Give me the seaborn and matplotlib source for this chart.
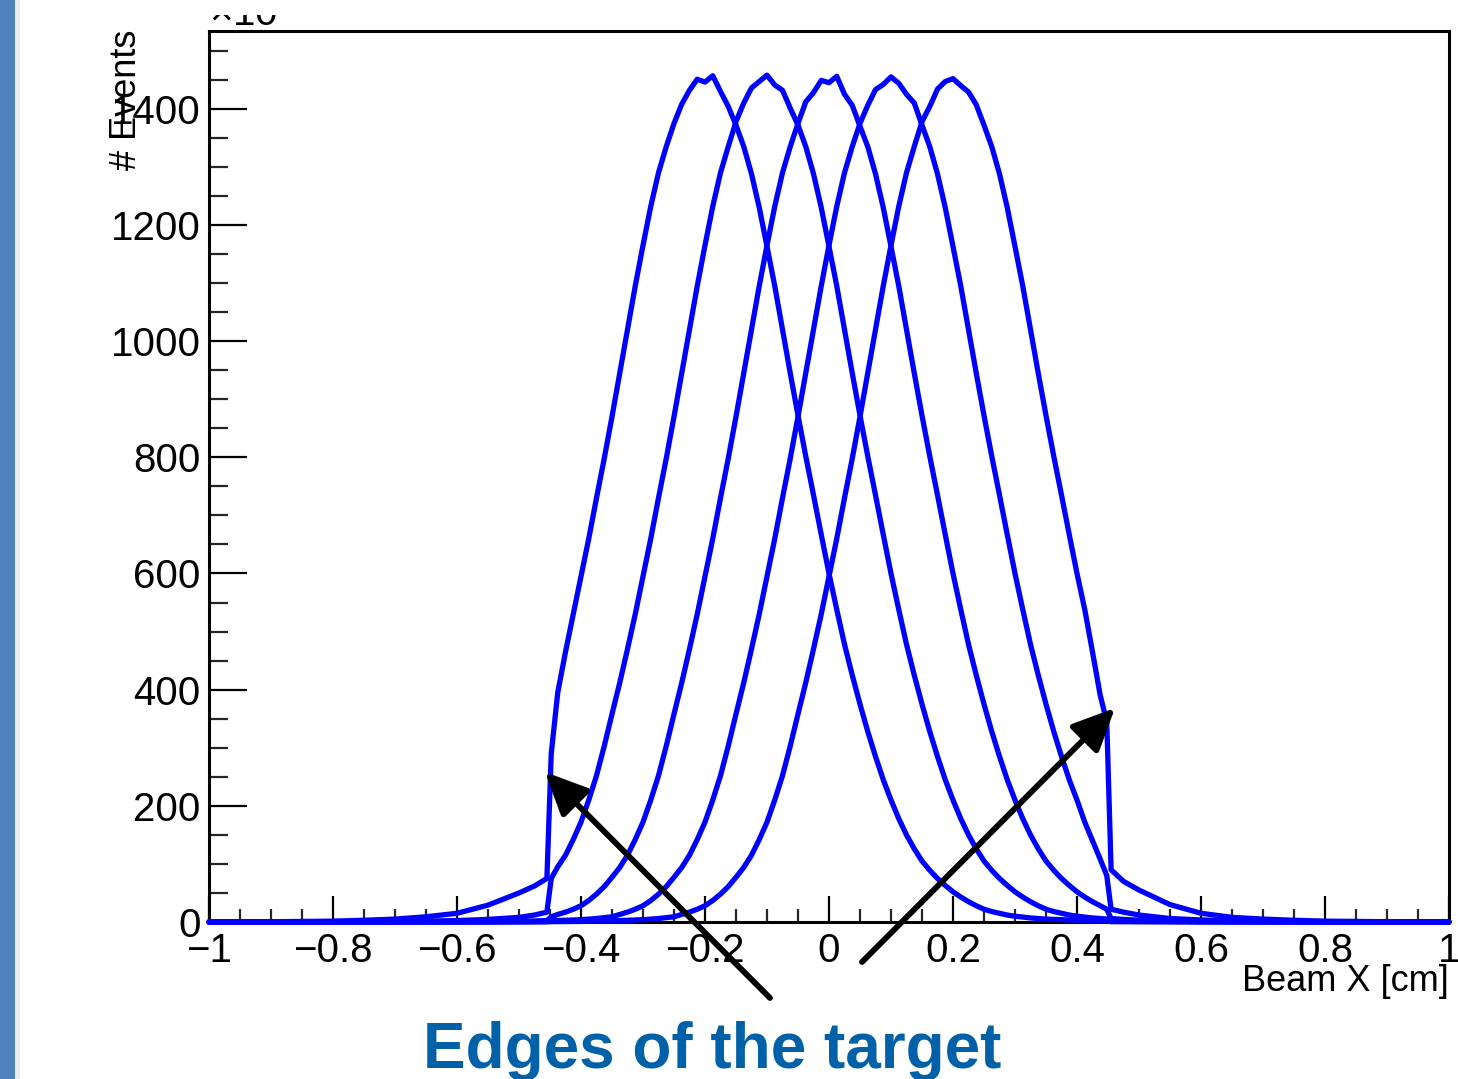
import numpy as np
import pandas as pd
import seaborn as sns
import matplotlib.pyplot as plt
from matplotlib.patches import Rectangle
from matplotlib.ticker import FixedLocator, FixedFormatter, MultipleLocator

# Beam X sample positions (cm): coarse tails, the target edges, and a fine core
x_tail_left = [-1.0, -0.9, -0.8, -0.75, -0.7, -0.65, -0.6, -0.55, -0.5, -0.475]
x_edge_left = [-0.455, -0.448]
x_core = list(np.round(np.linspace(-0.4375, 0.4375, 71), 4))
x_edge_right = [0.448, 0.455]
x_tail_right = [0.475, 0.5, 0.55, 0.6, 0.65, 0.7, 0.75, 0.8, 0.9, 1.0]
beam_x = x_tail_left + x_edge_left + x_core + x_edge_right + x_tail_right

# Events (x10^3) for the five beam offsets, in the order of beam_x
events_m020 = [0, 0.5, 1.5, 3, 5, 9, 15, 29, 50, 62,
               75, 290,
               395, 465, 530, 595, 660, 730, 798, 870, 945, 1020,
               1095, 1165, 1232, 1290, 1335, 1375, 1408, 1432, 1451, 1446,
               1457, 1430, 1404, 1372, 1335, 1288, 1230, 1163, 1095, 1020,
               945, 872, 802, 735, 667, 600, 538, 478, 425, 375,
               328, 285, 245, 210, 178, 150, 126, 105, 89, 75,
               63, 52, 43, 35, 28, 22, 18, 15, 12, 10,
               8.5, 7, 6, 5, 4.5, 4, 3.5, 3, 2.8, 2.5, 2.2,
               2, 0.6,
               0.5, 0.4, 0.3, 0.2, 0.1, 0, 0, 0, 0, 0]
events_m010 = [0, 0, 0.2, 0.4, 0.8, 1.5, 2.5, 4.5, 8, 12,
               17, 75,
               95, 115, 142, 172, 210, 252, 303, 358, 412, 470,
               530, 595, 660, 730, 798, 870, 945, 1020, 1095, 1165,
               1232, 1290, 1335, 1378, 1410, 1436, 1447, 1458,
               1441, 1432, 1401, 1372, 1335, 1288, 1230, 1163, 1095, 1020,
               945, 872, 802, 735, 667, 600, 538, 478, 425, 375,
               328, 285, 245, 210, 178, 150, 126, 105, 89, 75,
               63, 52, 43, 35, 28, 22, 18, 15, 12, 10, 8.5, 7, 6,
               5, 1.5,
               1.2, 1, 0.6, 0.3, 0.2, 0.1, 0, 0, 0, 0]
events_000 = [0, 0, 0, 0, 0, 0.2, 0.4, 0.6, 1.2, 1.8,
              2.5, 9,
              13, 17, 22, 28, 37, 48, 61, 77, 94, 115,
              142, 172, 210, 252, 303, 358, 412, 470, 530, 595,
              660, 730, 798, 870, 945, 1020, 1095, 1165, 1232, 1290,
              1335, 1375, 1412, 1428, 1449, 1445,
              1456, 1425, 1406, 1370, 1335, 1288, 1230, 1163, 1095, 1020,
              945, 872, 802, 735, 667, 600, 538, 478, 425, 375,
              328, 285, 245, 210, 178, 150, 126, 105, 89, 75,
              63, 52, 43, 35, 28,
              22, 6,
              4.5, 3, 1.5, 0.8, 0.5, 0.3, 0.2, 0.1, 0, 0]
events_p010 = [0, 0, 0, 0, 0, 0, 0.1, 0.2, 0.4, 0.6,
               0.8, 2.2,
               2.5, 3, 3.5, 4, 5, 6, 7.5, 9, 13, 17,
               22, 28, 37, 48, 61, 77, 94, 115, 142, 172,
               210, 252, 303, 358, 412, 470, 530, 595, 660, 730,
               798, 870, 945, 1020, 1095, 1165, 1232, 1290, 1335, 1375,
               1406, 1433, 1442, 1455,
               1444, 1425, 1410, 1372, 1335, 1288, 1230, 1163, 1095, 1020,
               945, 872, 802, 735, 667, 600, 538, 478, 425, 375,
               328, 285, 245, 210, 172, 140, 108,
               80, 22,
               17, 12, 6, 3.5, 2, 1.2, 0.7, 0.4, 0.1, 0]
events_p020 = [0, 0, 0, 0, 0, 0, 0, 0, 0.1, 0.2,
               0.3, 0.6,
               0.7, 0.8, 0.9, 1, 1.2, 1.5, 1.8, 2, 2.5, 3,
               3.5, 4, 5, 6, 7.5, 9, 13, 17, 22, 28,
               37, 48, 61, 77, 94, 115, 142, 172, 210, 252,
               303, 358, 412, 470, 530, 595, 660, 730, 798, 870,
               945, 1020, 1095, 1165, 1232, 1290, 1335, 1378, 1404, 1434,
               1447, 1452,
               1440, 1429, 1407, 1372, 1335, 1288, 1230, 1163, 1095, 1020,
               945, 872, 802, 735, 667, 600, 538, 465, 390,
               345, 90,
               70, 55, 30, 15, 8, 5, 3, 1.5, 0.5, 0.2]

offsets = ["-0.2", "-0.1", "0", "+0.1", "+0.2"]
series = [events_m020, events_m010, events_000, events_p010, events_p020]

x_ticks = [-1, -0.8, -0.6, -0.4, -0.2, 0, 0.2, 0.4, 0.6, 0.8, 1]
x_tick_labels = ["\u22121", "\u22120.8", "\u22120.6", "\u22120.4", "\u22120.2", "0",
                 "0.2", "0.4", "0.6", "0.8", "1"]
y_ticks = [0, 200, 400, 600, 800, 1000, 1200, 1400]
y_tick_labels = ["0", "200", "400", "600", "800", "1000", "1200", "1400"]

df = pd.concat(
    [pd.DataFrame({"beam_x": beam_x, "events": vals, "offset": off})
     for off, vals in zip(offsets, series)],
    ignore_index=True,
)

sns.set_theme(style="ticks")
plt.rcParams["font.family"] = ["Liberation Sans", "DejaVu Sans"]
plt.rcParams["mathtext.fontset"] = "custom"
plt.rcParams["mathtext.rm"] = "Liberation Sans"

W, H = 1458, 1079
fig = plt.figure(figsize=(W / 100, H / 100), dpi=100)
fig.patch.set_facecolor("white")
ax = fig.add_axes([209 / W, 1 - 922 / H, (1449 - 209) / W, (922 - 31) / H])
ax.set_facecolor("white")

sns.lineplot(data=df, x="beam_x", y="events", hue="offset", hue_order=offsets,
             palette=["#0000ff"] * len(offsets), estimator=None, sort=False,
             legend=False, linewidth=3.8, ax=ax)
for line in ax.lines:
    line.set_clip_on(False)
    line.set_zorder(3)

ax.set_xlim(-1, 1)
ax.set_ylim(0, 1534)
ax.set_xlabel("")
ax.set_ylabel("")

ax.xaxis.set_major_locator(FixedLocator(x_ticks))
ax.xaxis.set_major_formatter(FixedFormatter(x_tick_labels))
ax.xaxis.set_minor_locator(MultipleLocator(0.05))
ax.yaxis.set_major_locator(FixedLocator(y_ticks))
ax.yaxis.set_major_formatter(FixedFormatter(y_tick_labels))
ax.yaxis.set_minor_locator(MultipleLocator(50))

ax.tick_params(axis="x", which="major", direction="in", length=18.7, width=1.6,
               labelsize=29, pad=7, colors="black")
ax.tick_params(axis="x", which="minor", direction="in", length=9.4, width=1.6)
ax.tick_params(axis="y", which="major", direction="in", length=27, width=1.6,
               labelsize=29, pad=6, colors="black")
ax.tick_params(axis="y", which="minor", direction="in", length=13.7, width=1.6)
ax.tick_params(top=False, right=False, which="both")
for sp in ax.spines.values():
    sp.set_visible(True)
    sp.set_color("black")
    sp.set_linewidth(2.2)

# axis titles
fig.text(1449 / W, 1 - 991 / H, "Beam X [cm]", ha="right", va="baseline",
         fontsize=26, color="black")
fig.text(127 / W, 1 - 30 / H, "# Events", rotation=90, ha="center", va="top",
         fontsize=26, color="black")
fig.text(209 / W, 1 - 25 / H, "\u00d710$^{3}$", ha="left", va="baseline",
         fontsize=29, color="black")

# annotation
fig.text(712 / W, 1 - 1068 / H, "Edges of the target", ha="center", va="baseline",
         fontsize=46, fontweight="bold", color="#0061a8")

arrow_style = dict(arrowstyle="-|>,head_length=1.3,head_width=0.6",
                   color="black", lw=4.2, shrinkA=0, shrinkB=0, mutation_scale=20)
ax.annotate("", xy=(545, H - 772), xycoords="figure pixels",
            xytext=(770, H - 998), textcoords="figure pixels",
            arrowprops=arrow_style, annotation_clip=False)
ax.annotate("", xy=(1115, H - 708), xycoords="figure pixels",
            xytext=(862, H - 962), textcoords="figure pixels",
            arrowprops=arrow_style, annotation_clip=False)

# page frame: top edge and left accent bar
fig.patches.append(Rectangle((0, 1 - 15 / H), 1, 15 / H, transform=fig.transFigure,
                             facecolor="white", edgecolor="none", zorder=10))
fig.patches.append(Rectangle((15 / W, 0), 5 / W, 1, transform=fig.transFigure,
                             facecolor="#ebebeb", edgecolor="none", zorder=11))
fig.patches.append(Rectangle((0, 0), 15 / W, 1, transform=fig.transFigure,
                             facecolor="#4f81bd", edgecolor="none", zorder=12))

fig.savefig("out.png", dpi=100)
